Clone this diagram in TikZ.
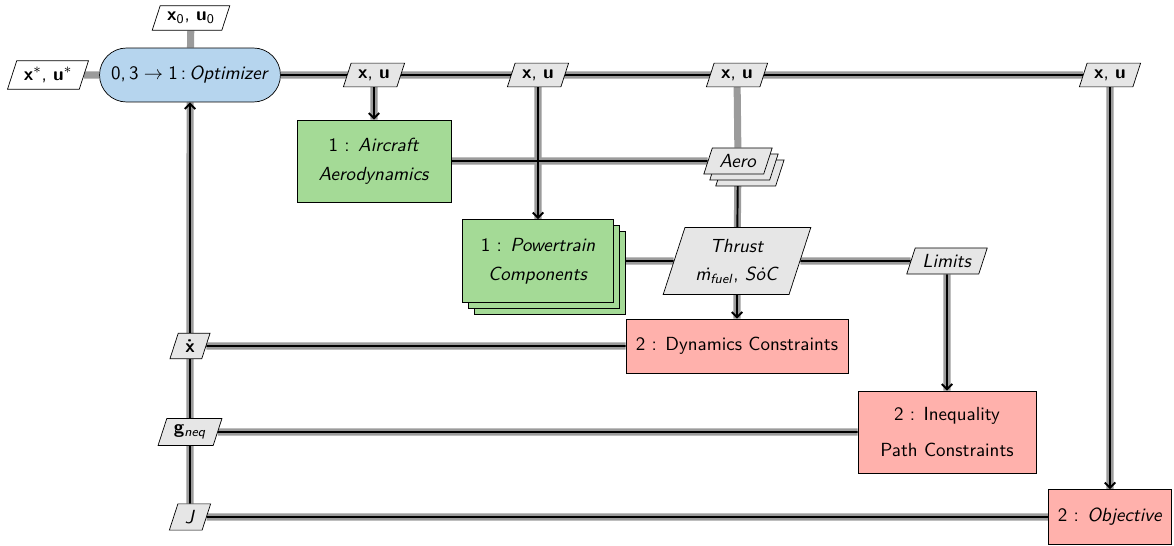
\documentclass[tikz,border=0pt]{standalone}
\usetikzlibrary{shapes.geometric,shapes.misc,shadows,arrows.meta}
\definecolor{optblue}{RGB}{182,213,238}
\definecolor{funcgreen}{RGB}{164,218,150}
\definecolor{conred}{RGB}{255,177,172}
\definecolor{datagray}{RGB}{230,230,230}
\definecolor{lineg}{RGB}{155,155,155}
\pgfdeclarelayer{datalayer}
\pgfdeclarelayer{proclayer}
\pgfsetlayers{datalayer,proclayer,main}
\tikzset{
 every node/.style={font=\sffamily\fontsize{10.8}{13}\selectfont},
 optnode/.style={draw, rounded rectangle, fill=optblue, minimum width=3.76cm, minimum height=1.08cm, inner sep=2pt},
 funcnode/.style={draw, rectangle, fill=funcgreen, align=center, inner sep=2pt},
 connode/.style={draw, rectangle, fill=conred, align=center, inner sep=2pt},
 datanode/.style={draw, trapezium, trapezium left angle=72, trapezium right angle=108, fill=datagray, align=center, inner xsep=4pt, inner ysep=3.6pt},
 ionode/.style={datanode, fill=white},
 dataline/.style={draw=lineg, line width=4pt},
 procline/.style={draw=black, line width=1.1pt},
 procarrow/.style={procline, -{Straight Barb[length=3pt,width=6pt]}},
 stackthree/.style={double copy shadow={shadow xshift=3.4pt, shadow yshift=-3.4pt}},
}
\begin{document}
\begin{tikzpicture}[x=0.02cm,y=-0.02cm]
\useasboundingbox (0,0) rectangle (1174,545);
\node[optnode] (opt) at (190,75) {0,\,3\;$\rightarrow$\;1\,:\,\textit{Optimizer}};
\node[ionode] (x0) at (191,18) {\textbf{x}\textsubscript{0}, \textbf{u}\textsubscript{0}};
\node[ionode] (xs) at (48,75) {\textbf{x}$^*$, \textbf{u}$^*$};
\node[datanode] (xu1) at (374,75) {\textbf{x}, \textbf{u}};
\node[datanode] (xu2) at (538,75) {\textbf{x}, \textbf{u}};
\node[datanode] (xu3) at (737,75) {\textbf{x}, \textbf{u}};
\node[datanode] (xu4) at (1110,75) {\textbf{x}, \textbf{u}};
\node[funcnode, minimum width=3.08cm, minimum height=1.64cm] (aircraft) at (374,161) {1 : \textit{Aircraft}\\[3.5pt]\textit{Aerodynamics}};
\node[datanode, stackthree] (aero) at (738,161) {\textit{Aero}};
\node[funcnode, stackthree, minimum width=3.02cm, minimum height=1.66cm] (power) at (538,261) {1 : \textit{Powertrain}\\[3.5pt]\textit{Components}};
\node[datanode, text width=1.8cm, inner ysep=6.5pt] (thrust) at (737,261) {\textit{Thrust}\\[3pt]\textit{\.m}\textsubscript{\textit{fuel}}, \textit{S\.oC}};
\node[datanode] (limits) at (947,261) {\textit{Limits}};
\node[connode, minimum width=4.44cm, minimum height=1.08cm] (dyn) at (737,346) {2 : Dynamics Constraints};
\node[connode, minimum width=3.56cm, minimum height=1.64cm] (ineq) at (947,432) {2 : Inequality\\[7pt]Path Constraints};
\node[connode, minimum width=2.46cm, minimum height=1.10cm] (obj) at (1110,517) {2 : \textit{Objective}};
\node[datanode] (xdot) at (190,346) {\textbf{\.x}};
\node[datanode] (gneq) at (190,432) {\textbf{g}\textsubscript{\textit{neq}}};
\node[datanode] (J) at (190,517) {\textit{J}};
\begin{pgfonlayer}{datalayer}
\draw[dataline] (opt) -- (xu4);
\draw[dataline] (x0) -- (opt);
\draw[dataline] (xs) -- (opt);
\draw[dataline] (xu1) -- (aircraft);
\draw[dataline] (xu2) -- (power);
\draw[dataline] (xu3) -- (aero);
\draw[dataline] (xu4) -- (obj);
\draw[dataline] (aircraft) -- (aero);
\draw[dataline] (aero) -- (thrust);
\draw[dataline] (power) -- (thrust);
\draw[dataline] (thrust) -- (dyn);
\draw[dataline] (thrust) -- (limits);
\draw[dataline] (limits) -- (ineq);
\draw[dataline] (dyn) -- (xdot);
\draw[dataline] (ineq) -- (gneq);
\draw[dataline] (obj) -- (J);
\draw[dataline] (J) -- (gneq);
\draw[dataline] (gneq) -- (xdot);
\draw[dataline] (xdot) -- (opt);
\end{pgfonlayer}
\begin{pgfonlayer}{proclayer}
\draw[procline] (opt) -- (xu4);
\draw[procarrow] (xu1) -- (aircraft);
\draw[procarrow] (xu2) -- (power);
\draw[procarrow] (xu4) -- (obj);
\draw[procline] (aircraft) -- (aero);
\draw[procline] (aero) -- (thrust);
\draw[procline] (power) -- (thrust);
\draw[procarrow] (thrust) -- (dyn);
\draw[procline] (thrust) -- (limits);
\draw[procarrow] (limits) -- (ineq);
\draw[procline] (dyn) -- (xdot);
\draw[procline] (ineq) -- (gneq);
\draw[procline] (obj) -- (J);
\draw[procline] (J) -- (gneq);
\draw[procline] (gneq) -- (xdot);
\draw[procarrow] (xdot) -- (opt);
\end{pgfonlayer}
\end{tikzpicture}
\end{document}
